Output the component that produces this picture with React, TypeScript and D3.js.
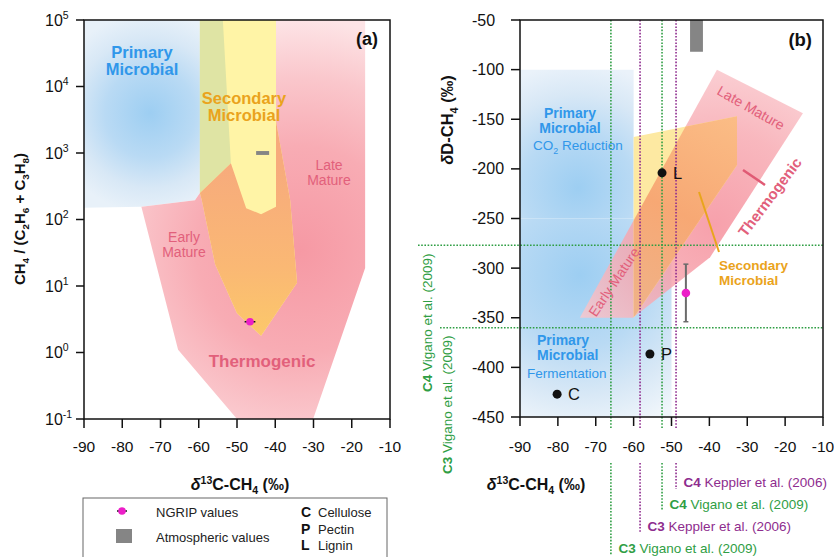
import React from 'react';
import * as d3 from 'd3';

type Pt = [number, number];

// ---------- data ----------
const X_TICKS = [-90, -80, -70, -60, -50, -40, -30, -20, -10];
const A_Y_EXP = [-1, 0, 1, 2, 3, 4, 5];
const B_Y_TICKS = [-450, -400, -350, -300, -250, -200, -150, -100, -50];

// Panel (a) fields: [δ13C-CH4, CH4/(C2H6+C3H8)]
const A_PRIMARY: Pt[] = [[-90, 1e5], [-53.7, 1e5], [-51.6, 700], [-59.7, 250], [-61, 195], [-75, 155], [-90, 150]];
const A_THERMO: Pt[] = [[-75, 155], [-61, 195], [-59.7, 250], [-51.6, 700], [-47.6, 148], [-43.7, 120], [-39.8, 155], [-39.8, 1e5], [-16.5, 1e5], [-16.5, 18.6], [-30.1, 0.1], [-50, 0.1], [-65.4, 1.1]];
const A_SECONDARY: Pt[] = [[-59.7, 1e5], [-39.8, 1e5], [-39.8, 3000], [-36.1, 195], [-34.3, 11.2], [-43.7, 1.78], [-50, 3.9], [-55.7, 21], [-59.2, 195], [-59.7, 250]];
const A_ATMOS = [-45, -41.6, 935, 1070]; // x0, x1, y0, y1
const A_NGRIP = [-46.6, 2.9, 1.4]; // x, y, x error

// Panel (b) fields: [δ13C-CH4, δD-CH4]
const B_PRIMARY_CO2: Pt[] = [[-90, -100], [-60, -100], [-60, -250], [-90, -250]];
const B_PRIMARY_FERM: Pt[] = [[-90, -250], [-50, -250], [-50, -450], [-90, -450]];
const B_THERMO: Pt[] = [[-38, -100], [-15.3, -144], [-39.8, -289], [-60.2, -350], [-74.2, -350]];
const B_SECONDARY: Pt[] = [[-60, -168], [-32.7, -147], [-32.7, -196], [-60, -350]];
const B_ATMOS = [-45.1, -41.7, -82, -50]; // x0, x1, y0, y1
const B_NGRIP = [-46.2, -325, 1, 29]; // x, y, x error, y error
const SUB_LABELS = ['C', 'P', 'L'];
const SUB_NAMES = ['Cellulose', 'Pectin', 'Lignin'];
const SUB_X = [-80.2, -55.7, -52.5];
const SUB_Y = [-427, -386.5, -204];

const REF_X = [-66, -58.3, -52.5, -48.8];
const REF_PLANT = ['C3', 'C3', 'C4', 'C4'];
const REF_SOURCE = ['Vigano et al. (2009)', 'Keppler et al. (2006)', 'Vigano et al. (2009)', 'Keppler et al. (2006)'];
const REF_DD = [-277, -360];
const REF_DD_PLANT = ['C4', 'C3'];
const REF_DD_SOURCE = ['Vigano et al. (2009)', 'Vigano et al. (2009)'];

const LEGEND_MARKERS = ['NGRIP values', 'Atmospheric values'];

// ---------- styles ----------
const FONT = '"Liberation Sans", Arial, Helvetica, sans-serif';
const BLUE_TXT = '#3097ea';
const ORANGE_TXT = '#eaa31c';
const PINK_TXT = '#e2607b';
const GREEN = '#2f9e44';
const PURPLE = '#8e2c8e';
const MAGENTA = '#ec1ec8';
const GRAY = '#858585';

type Seg = { t: string; sub?: boolean; sup?: boolean; it?: boolean; b?: boolean };
function rich(segs: Seg[], size: number) {
  let cur = 0;
  return segs.map((s, i) => {
    const target = s.sub ? size * 0.28 : s.sup ? -size * 0.38 : 0;
    const dy = target - cur;
    cur = target;
    return (
      <tspan key={i} dy={dy} fontSize={s.sub || s.sup ? size * 0.66 : size}
        fontStyle={s.it ? 'italic' : undefined} fontWeight={s.b ? 'bold' : undefined}>
        {s.t}
      </tspan>
    );
  });
}

const X_TITLE: Seg[] = [{ t: 'δ', it: true }, { t: '13', sup: true }, { t: 'C-CH' }, { t: '4', sub: true }, { t: ' (‰)' }];
const A_Y_TITLE: Seg[] = [{ t: 'CH' }, { t: '4', sub: true }, { t: ' / (C' }, { t: '2', sub: true }, { t: 'H' }, { t: '6', sub: true }, { t: ' + C' }, { t: '3', sub: true }, { t: 'H' }, { t: '8', sub: true }, { t: ')' }];
const B_Y_TITLE: Seg[] = [{ t: 'δ', it: true }, { t: 'D-CH' }, { t: '4', sub: true }, { t: ' (‰)' }];

export default function App() {
  const xA = d3.scaleLinear().domain([-90, -10]).range([84, 390]);
  const yA = d3.scaleLog().domain([0.1, 1e5]).range([419, 20]);
  const xB = d3.scaleLinear().domain([-90, -10]).range([520, 823]);
  const yB = d3.scaleLinear().domain([-450, -50]).range([417, 20]);
  const pathA = (pts: Pt[]) => (d3.line<Pt>().x(d => xA(d[0])).y(d => yA(d[1]))(pts) || '') + 'Z';
  const pathB = (pts: Pt[]) => (d3.line<Pt>().x(d => xB(d[0])).y(d => yB(d[1]))(pts) || '') + 'Z';

  const refColor = (src: string) => (src.startsWith('Keppler') ? PURPLE : GREEN);
  const bottomBase = [553, 531, 509, 487];
  const ddTextX = [432, 452];
  const ddTextY = [392, 474];
  const ddLineX0 = [418, 440];

  return (
    <svg width={834} height={557} viewBox="0 0 834 557"
      style={{ position: 'absolute', left: 0, top: 0, display: 'block' }} fontFamily={FONT}>
      <defs>
        <radialGradient id="blueA" gradientUnits="userSpaceOnUse" cx={150} cy={113} r={100}>
          <stop offset="0" stopColor="#9dcef2" />
          <stop offset="0.45" stopColor="#b9daf4" />
          <stop offset="0.75" stopColor="#d8e8f6" />
          <stop offset="1" stopColor="#e8f1f9" />
        </radialGradient>
        <radialGradient id="pinkA" gradientUnits="userSpaceOnUse" cx={300} cy={250} r={230}>
          <stop offset="0" stopColor="#f699a4" />
          <stop offset="0.45" stopColor="#f8acb4" />
          <stop offset="0.75" stopColor="#fac7cc" />
          <stop offset="1" stopColor="#fde4e6" />
        </radialGradient>
        <linearGradient id="orangeA" gradientUnits="userSpaceOnUse" x1={0} y1={165} x2={0} y2={336}>
          <stop offset="0" stopColor="#f7ab7c" />
          <stop offset="0.6" stopColor="#fab874" />
          <stop offset="1" stopColor="#fcc86a" />
        </linearGradient>
        <radialGradient id="blueB1" gradientUnits="userSpaceOnUse" cx={578} cy={188} r={125}>
          <stop offset="0" stopColor="#9dcef2" />
          <stop offset="0.45" stopColor="#b9daf4" />
          <stop offset="0.75" stopColor="#d8e8f6" />
          <stop offset="1" stopColor="#eaf2fa" />
        </radialGradient>
        <radialGradient id="blueB2" gradientUnits="userSpaceOnUse" cx={580} cy={275} r={160}>
          <stop offset="0" stopColor="#9dcef2" />
          <stop offset="0.45" stopColor="#b9daf4" />
          <stop offset="0.75" stopColor="#d8e8f6" />
          <stop offset="1" stopColor="#f0f6fb" />
        </radialGradient>
        <radialGradient id="pinkB" gradientUnits="userSpaceOnUse" cx={715} cy={225} r={190}>
          <stop offset="0" stopColor="#f58c99" />
          <stop offset="0.5" stopColor="#f7a8b0" />
          <stop offset="1" stopColor="#fbd3d7" />
        </radialGradient>
        <linearGradient id="orangeB" gradientUnits="userSpaceOnUse" x1={737} y1={116} x2={634} y2={317}>
          <stop offset="0" stopColor="#fbbd86" />
          <stop offset="0.5" stopColor="#f7a874" />
          <stop offset="1" stopColor="#efb389" />
        </linearGradient>
        <clipPath id="clipBlueA"><path d={pathA(A_PRIMARY)} /></clipPath>
        <clipPath id="clipPinkA"><path d={pathA(A_THERMO)} /></clipPath>
        <clipPath id="clipPinkB"><path d={pathB(B_THERMO)} /></clipPath>
      </defs>
      <rect width={834} height={557} fill="#fff" />

      {/* ================= Panel (a) ================= */}
      <g>
        <path d={pathA(A_PRIMARY)} fill="url(#blueA)" />
        <path d={pathA(A_THERMO)} fill="url(#pinkA)" />
        <path d={pathA(A_SECONDARY)} fill="#fff4a6" />
        <path d={pathA(A_SECONDARY)} fill="#dfe4a4" clipPath="url(#clipBlueA)" />
        <path d={pathA(A_SECONDARY)} fill="url(#orangeA)" clipPath="url(#clipPinkA)" />

        <text x={142} y={57.5} textAnchor="middle" fontSize={16.5} fontWeight="bold" fill={BLUE_TXT}>Primary</text>
        <text x={142} y={75} textAnchor="middle" fontSize={16.5} fontWeight="bold" fill={BLUE_TXT}>Microbial</text>
        <text x={244} y={103.5} textAnchor="middle" fontSize={16.5} fontWeight="bold" fill={ORANGE_TXT}>Secondary</text>
        <text x={244} y={121} textAnchor="middle" fontSize={16.5} fontWeight="bold" fill={ORANGE_TXT}>Microbial</text>
        <text x={329} y={170} textAnchor="middle" fontSize={14} fill={PINK_TXT}>Late</text>
        <text x={329} y={185} textAnchor="middle" fontSize={14} fill={PINK_TXT}>Mature</text>
        <text x={184} y={242} textAnchor="middle" fontSize={14} fill={PINK_TXT}>Early</text>
        <text x={184} y={257} textAnchor="middle" fontSize={14} fill={PINK_TXT}>Mature</text>
        <text x={262} y={367} textAnchor="middle" fontSize={17} fontWeight="bold" fill={PINK_TXT}>Thermogenic</text>
        <text x={378} y={45} textAnchor="end" fontSize={18} fontWeight="bold" fill="#111">(a)</text>

        <rect x={xA(A_ATMOS[0])} y={yA(A_ATMOS[3])} width={xA(A_ATMOS[1]) - xA(A_ATMOS[0])}
          height={yA(A_ATMOS[2]) - yA(A_ATMOS[3])} fill={GRAY} />

        <line x1={xA(A_NGRIP[0] - A_NGRIP[2])} x2={xA(A_NGRIP[0] + A_NGRIP[2])} y1={yA(A_NGRIP[1])} y2={yA(A_NGRIP[1])}
          stroke="#111" strokeWidth={1.5} />
        <circle cx={xA(A_NGRIP[0])} cy={yA(A_NGRIP[1])} r={3.8} fill={MAGENTA} />

        {/* frame + ticks */}
        <rect x={84} y={20} width={306} height={399} fill="none" stroke="#111" strokeWidth={1.5} />
        {X_TICKS.map(t => (
          <g key={'xa' + t}>
            <line x1={xA(t)} x2={xA(t)} y1={419} y2={428} stroke="#111" strokeWidth={1.5} />
            <text x={xA(t)} y={452} textAnchor="middle" fontSize={15.5} fill="#111">{t}</text>
          </g>
        ))}
        {A_Y_EXP.map(e => (
          <g key={'ya' + e}>
            <line x1={76} x2={84} y1={yA(Math.pow(10, e))} y2={yA(Math.pow(10, e))} stroke="#111" strokeWidth={1.5} />
            <text x={45} y={yA(Math.pow(10, e)) + 5.5} fontSize={16} fill="#111">10<tspan dy={-7} fontSize={10.5}>{e}</tspan></text>
          </g>
        ))}
        <text x={240} y={490} textAnchor="middle" fontWeight="bold" fill="#111">{rich(X_TITLE, 16)}</text>
        <text transform="translate(25,219) rotate(-90)" textAnchor="middle" fontWeight="bold" fill="#111">{rich(A_Y_TITLE, 15)}</text>
      </g>

      {/* ================= Panel (b) ================= */}
      <g>
        <path d={pathB(B_PRIMARY_CO2)} fill="url(#blueB1)" />
        <path d={pathB(B_PRIMARY_FERM)} fill="url(#blueB2)" />
        <path d={pathB(B_THERMO)} fill="url(#pinkB)" opacity={0.82} />
        <path d={pathB(B_SECONDARY)} fill="#fde9a2" />
        <path d={pathB(B_SECONDARY)} fill="url(#orangeB)" clipPath="url(#clipPinkB)" />

        {/* reference lines */}
        {REF_X.map((v, i) => (
          <g key={'rv' + i}>
            <line x1={xB(v)} x2={xB(v)} y1={20} y2={428} stroke={refColor(REF_SOURCE[i])} strokeWidth={1.6} strokeDasharray="1.6 1.6" />
            <line x1={xB(v)} x2={xB(v)} y1={463} y2={bottomBase[i] + 2} stroke={refColor(REF_SOURCE[i])} strokeWidth={1.6} strokeDasharray="1.6 1.6" />
            <text x={xB(v) + 7.5} y={bottomBase[i]} fontSize={13.5} fill={refColor(REF_SOURCE[i])}>
              <tspan fontWeight="bold">{REF_PLANT[i]}</tspan> {REF_SOURCE[i]}
            </text>
          </g>
        ))}
        {REF_DD.map((v, i) => (
          <g key={'rh' + i}>
            <line x1={ddLineX0[i]} x2={823} y1={yB(v)} y2={yB(v)} stroke={GREEN} strokeWidth={1.6} strokeDasharray="1.6 1.6" />
            <text transform={`translate(${ddTextX[i]},${ddTextY[i]}) rotate(-90)`} fontSize={13.5} fill={GREEN}>
              <tspan fontWeight="bold">{REF_DD_PLANT[i]}</tspan> {REF_DD_SOURCE[i]}
            </text>
          </g>
        ))}

        <rect x={xB(B_ATMOS[0])} y={yB(B_ATMOS[3])} width={xB(B_ATMOS[1]) - xB(B_ATMOS[0])}
          height={yB(B_ATMOS[2]) - yB(B_ATMOS[3])} fill={GRAY} />

        {/* region labels */}
        <text x={570} y={118} textAnchor="middle" fontSize={14} fontWeight="bold" fill={BLUE_TXT}>Primary</text>
        <text x={570} y={133} textAnchor="middle" fontSize={14} fontWeight="bold" fill={BLUE_TXT}>Microbial</text>
        <text x={578} y={150} textAnchor="middle" fill={BLUE_TXT}>{rich([{ t: 'CO' }, { t: '2', sub: true }, { t: ' Reduction' }], 13.5)}</text>
        <text x={537} y={345} fontSize={14} fontWeight="bold" fill={BLUE_TXT}>Primary</text>
        <text x={537} y={360} fontSize={14} fontWeight="bold" fill={BLUE_TXT}>Microbial</text>
        <text x={527} y={378} fontSize={13.5} fill={BLUE_TXT}>Fermentation</text>

        <text transform="translate(751,108) rotate(29.6)" textAnchor="middle" dy="0.35em" fontSize={14} fill={PINK_TXT}>Late Mature</text>
        <text transform="translate(770,197) rotate(-53)" textAnchor="middle" dy="0.35em" fontSize={15} fontWeight="bold" fill={PINK_TXT}>Thermogenic</text>
        <line x1={743} y1={170} x2={765} y2={185} stroke="#e05a74" strokeWidth={2.5} />
        <text transform="translate(614,282) rotate(-56)" textAnchor="middle" dy="0.35em" fontSize={14} fill={PINK_TXT}>Early Mature</text>
        <line x1={699} y1={192} x2={719} y2={252} stroke="#e8a51c" strokeWidth={2} />
        <text x={719} y={270} fontSize={13.5} fontWeight="bold" fill={ORANGE_TXT}>Secondary</text>
        <text x={719} y={284.5} fontSize={13.5} fontWeight="bold" fill={ORANGE_TXT}>Microbial</text>
        <text x={812} y={46} textAnchor="end" fontSize={18.5} fontWeight="bold" fill="#111">(b)</text>

        {/* substrates */}
        {SUB_LABELS.map((lab, i) => (
          <g key={'s' + lab}>
            <circle cx={xB(SUB_X[i])} cy={yB(SUB_Y[i])} r={4.5} fill="#111" />
            <text x={xB(SUB_X[i]) + 11} y={yB(SUB_Y[i]) + 6} fontSize={16.5} fill="#111">{lab}</text>
          </g>
        ))}

        {/* NGRIP */}
        <line x1={xB(B_NGRIP[0])} x2={xB(B_NGRIP[0])} y1={yB(B_NGRIP[1] + B_NGRIP[3])} y2={yB(B_NGRIP[1] - B_NGRIP[3])} stroke="#6b6b6b" strokeWidth={2} />
        <line x1={xB(B_NGRIP[0]) - 2.5} x2={xB(B_NGRIP[0]) + 2.5} y1={yB(B_NGRIP[1] + B_NGRIP[3])} y2={yB(B_NGRIP[1] + B_NGRIP[3])} stroke="#6b6b6b" strokeWidth={1.5} />
        <line x1={xB(B_NGRIP[0]) - 2.5} x2={xB(B_NGRIP[0]) + 2.5} y1={yB(B_NGRIP[1] - B_NGRIP[3])} y2={yB(B_NGRIP[1] - B_NGRIP[3])} stroke="#6b6b6b" strokeWidth={1.5} />
        <line x1={xB(B_NGRIP[0] - B_NGRIP[2])} x2={xB(B_NGRIP[0] + B_NGRIP[2])} y1={yB(B_NGRIP[1])} y2={yB(B_NGRIP[1])} stroke="#111" strokeWidth={1.5} />
        <circle cx={xB(B_NGRIP[0])} cy={yB(B_NGRIP[1])} r={4.3} fill={MAGENTA} />

        {/* frame + ticks */}
        <rect x={520} y={20} width={303} height={397} fill="none" stroke="#111" strokeWidth={1.5} />
        {X_TICKS.map(t => (
          <g key={'xb' + t}>
            <line x1={xB(t)} x2={xB(t)} y1={417} y2={426} stroke="#111" strokeWidth={1.5} />
            <text x={xB(t)} y={452} textAnchor="middle" fontSize={15.5} fill="#111">{t}</text>
          </g>
        ))}
        {B_Y_TICKS.map(t => (
          <g key={'yb' + t}>
            <line x1={511} x2={520} y1={yB(t)} y2={yB(t)} stroke="#111" strokeWidth={1.5} />
            <text x={472} y={yB(t) + 5.5} fontSize={16} fill="#111">{t}</text>
          </g>
        ))}
        <text x={536} y={490} textAnchor="middle" fontWeight="bold" fill="#111">{rich(X_TITLE, 16)}</text>
        <text transform="translate(453,120) rotate(-90)" textAnchor="middle" fontWeight="bold" fill="#111">{rich(B_Y_TITLE, 16.5)}</text>
      </g>

      {/* ================= Legend ================= */}
      <g>
        <rect x={83} y={498} width={304} height={80} fill="#fff" stroke="#666" strokeWidth={1} />
        <line x1={117} x2={127} y1={511} y2={511} stroke="#111" strokeWidth={1.5} />
        <circle cx={122} cy={511} r={3.8} fill={MAGENTA} />
        <text x={156} y={517} fontSize={13} fill="#222">{LEGEND_MARKERS[0]}</text>
        <rect x={116} y={529} width={16} height={14} fill={GRAY} />
        <text x={156} y={542} fontSize={13} fill="#222">{LEGEND_MARKERS[1]}</text>
        {SUB_LABELS.map((lab, i) => (
          <g key={'lg' + lab}>
            <text x={301} y={517 + i * 16.5} fontSize={14} fontWeight="bold" fill="#111">{lab}</text>
            <text x={318} y={517 + i * 16.5} fontSize={13} fill="#222">{SUB_NAMES[i]}</text>
          </g>
        ))}
      </g>
    </svg>
  );
}
